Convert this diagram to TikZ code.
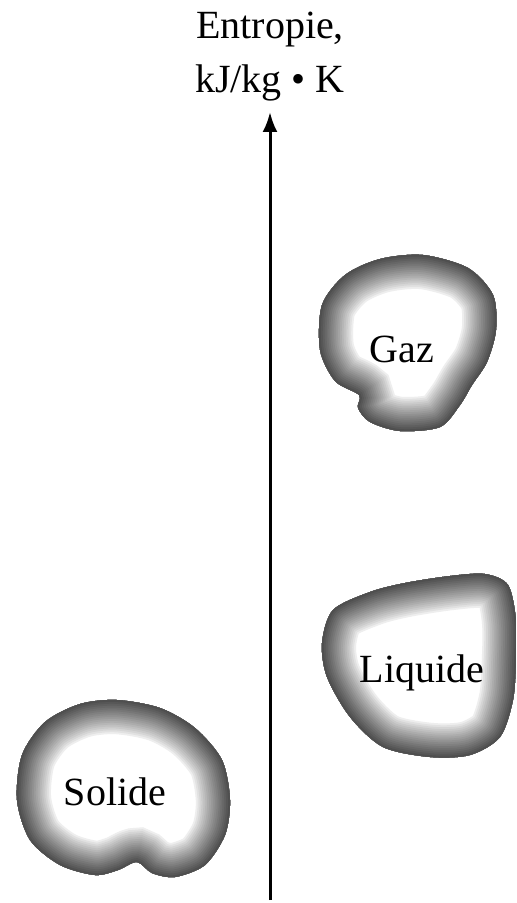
\documentclass[tikz,border=0pt]{standalone}
\usepackage{fontspec}
\setmainfont{Liberation Serif}
\usetikzlibrary{arrows.meta}

\newcommand{\phaseblob}[1]{%
  \begin{scope}
    \clip plot[smooth cycle] coordinates {#1};
    \foreach \k [evaluate=\k as \p using 72*(1-\k/19)^0.8] in {19,...,1}
      \draw[line width=\k*1.9pt, black!\p] plot[smooth cycle] coordinates {#1};
  \end{scope}}

\begin{document}
\begin{tikzpicture}[x=0.5pt,y=-0.5pt,
  txt/.style={font=\fontsize{20}{27}\selectfont, inner sep=0pt},
  axis/.style={line width=1.5pt, -{Latex[length=10pt,width=7.5pt]}}]
\useasboundingbox (0,0) rectangle (517,903);

% the three phases
\phaseblob{(423,255) (468,268) (493,295) (496,330) (487,362) (472,385) (460,405) (440,427) (400,431) (370,422) (358,408) (359,395) (335,381) (320,350) (322,305) (345,275) (380,259)}
\phaseblob{(333,610) (370,592) (405,583) (450,576) (485,574) (508,585) (516,620) (516,660) (513,700) (500,737) (470,755) (430,757) (383,747) (350,717) (327,677) (322,643)}
\phaseblob{(117,700) (160,708) (195,728) (222,760) (230,800) (225,835) (205,865) (175,877) (152,873) (137,862) (118,870) (95,875) (60,865) (30,840) (17,800) (22,755) (45,722) (80,704)}

\node[txt, anchor=base] (gaz) at (402,362) {Gaz};
\node[txt, anchor=base] (liquide) at (422,682) {Liquide};
\node[txt, anchor=base] (solide) at (115,805) {Solide};

% axis
\node[txt, align=center, anchor=south] (titre) at (270,102) {Entropie,\\kJ/kg • K};
\coordinate (bas) at (270,900);
\draw[axis, shorten >=5pt] (bas) -- (titre.south);
\end{tikzpicture}
\end{document}
